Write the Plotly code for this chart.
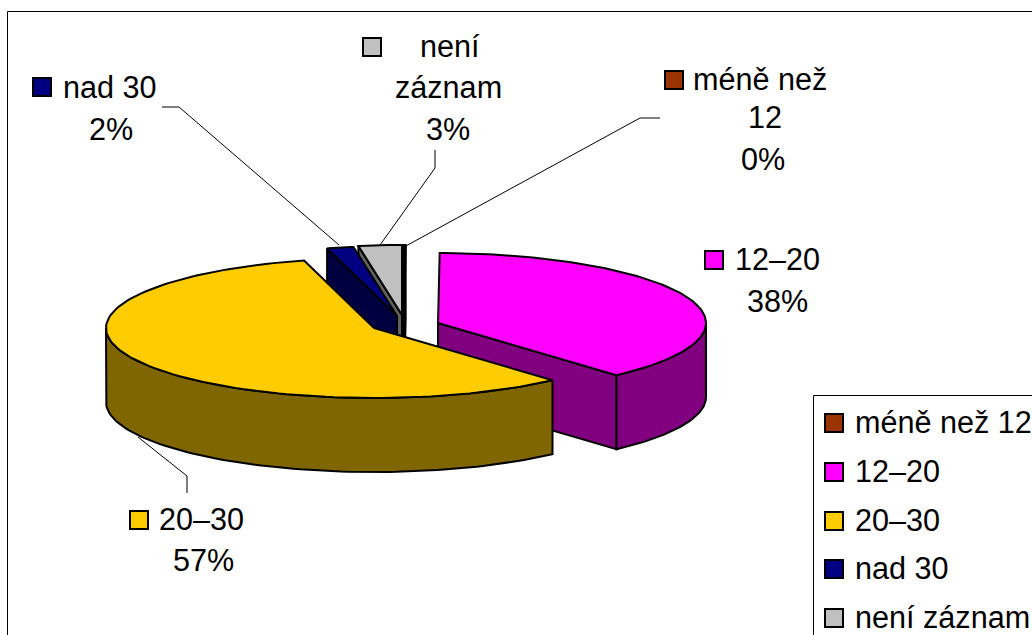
import numpy as np
import plotly.graph_objects as go

# ---- data ----
categories = ["méně než 12", "12–20", "20–30", "nad 30", "není záznam"]
values = [0.1, 38.3, 57.4, 1.6, 2.6]
colors = ["#993300", "#FF00FF", "#FFCC00", "#000080", "#C0C0C0"]
side_colors = ["#4D1A00", "#800080", "#806600", "#000040", "#606060"]

# ---- style / layout of the exploded pie ----
W, H = 1032, 635
RX, RY, DEPTH = 268, 70, 74
centers = {0: (404, 315), 1: (438, 323), 2: (374, 328), 3: (397, 316), 4: (402, 315)}
draw_order = [0, 4, 3, 1, 2]
FS = 30.6
FONT = "Liberation Sans, Arial, sans-serif"
EDGE = 2


def pt(c, t):
    return c[0] + RX * np.sin(t), c[1] - RY * np.cos(t)


def poly(fig, xs, ys, fill):
    fig.add_trace(go.Scatter(
        x=list(xs) + [xs[0]], y=list(ys) + [ys[0]], mode="lines", fill="toself",
        fillcolor=fill, line=dict(color="black", width=EDGE),
        hoverinfo="skip", showlegend=False))


fig = go.Figure()

edges = np.radians(np.cumsum([0] + values) * 3.6)
for i in draw_order:
    c, a, b = centers[i], edges[i], edges[i + 1]
    # radial faces turned towards the viewer
    for ang, visible in ((a, np.sin(a) < 0), (b, np.sin(b) > 0)):
        if visible:
            ex, ey = pt(c, ang)
            poly(fig, [c[0], ex, ex, c[0]], [c[1], ey, ey + DEPTH, c[1] + DEPTH], side_colors[i])
    # outer wall, front half only
    lo, hi = max(a, np.pi / 2), min(b, 1.5 * np.pi)
    if hi > lo:
        ts = np.linspace(lo, hi, 90)
        ax, ay = pt(c, ts)
        poly(fig, np.r_[ax, ax[::-1]], np.r_[ay, ay[::-1] + DEPTH], side_colors[i])
    # top face
    ts = np.linspace(a, b, 120)
    ax, ay = pt(c, ts)
    poly(fig, np.r_[c[0], ax], np.r_[c[1], ay], colors[i])

# leader lines
leaders = [
    ([162, 179, 339], [107, 107, 245]),
    ([435, 435, 380], [150, 168, 245]),
    ([660, 640, 404], [118, 118, 247]),
    ([187, 187, 138], [493, 476, 437]),
]
for lx, ly in leaders:
    fig.add_trace(go.Scatter(x=lx, y=ly, mode="lines", line=dict(color="black", width=1),
                             hoverinfo="skip", showlegend=False))

pct = [f"{round(v)}%" for v in values]
annotations = []


def text(x, y, s, anchor="center"):
    annotations.append(dict(x=x - 3 if anchor == "left" else x, y=y - 1, text=s, xref="x", yref="y",
                            showarrow=False, xanchor=anchor, yanchor="middle",
                            font=dict(family=FONT, size=FS, color="black")))


# data labels: key position, then text lines
key_x = [674, 714, 139, 42, 372]
key_y = [80, 260, 520, 87, 47]
text(694, 80, "méně než", "left"); text(765, 118, "12"); text(763, 160, pct[0])
text(736, 260, categories[1], "left"); text(777, 302, pct[1])
text(160, 520, categories[2], "left"); text(203, 561, pct[2])
text(64, 88, categories[3], "left"); text(111, 130, pct[3])
text(450, 47, "není"); text(448, 88, "záznam"); text(448, 130, pct[4])

# legend
leg_x = [834] * 5
leg_y = [423, 472, 521, 569, 618]
for s, y in zip(categories, leg_y):
    text(856, y, s, "left")

fig.add_trace(go.Scatter(
    x=key_x + leg_x, y=key_y + leg_y, mode="markers",
    marker=dict(symbol="square", size=18, color=colors + colors, line=dict(color="black", width=2)),
    hoverinfo="skip", showlegend=False))

frame = dict(color="black", width=1)
shapes = [
    dict(type="rect", x0=7.5, y0=11.5, x1=1060, y1=660, xref="x", yref="y", line=frame, layer="below"),
    dict(type="rect", x0=813.5, y0=395.5, x1=1060, y1=660, xref="x", yref="y", line=frame,
         fillcolor="white", layer="below"),
]

fig.update_layout(
    width=W, height=H, margin=dict(l=0, r=0, t=0, b=0, pad=0),
    paper_bgcolor="white", plot_bgcolor="white", showlegend=False,
    xaxis=dict(range=[0, W], visible=False, fixedrange=True),
    yaxis=dict(range=[H, 0], visible=False, fixedrange=True),
    annotations=annotations, shapes=shapes,
)
fig.write_html("out.html", config={"displayModeBar": False},
               post_script="document.body.style.margin='0';document.body.style.overflow='hidden';")
